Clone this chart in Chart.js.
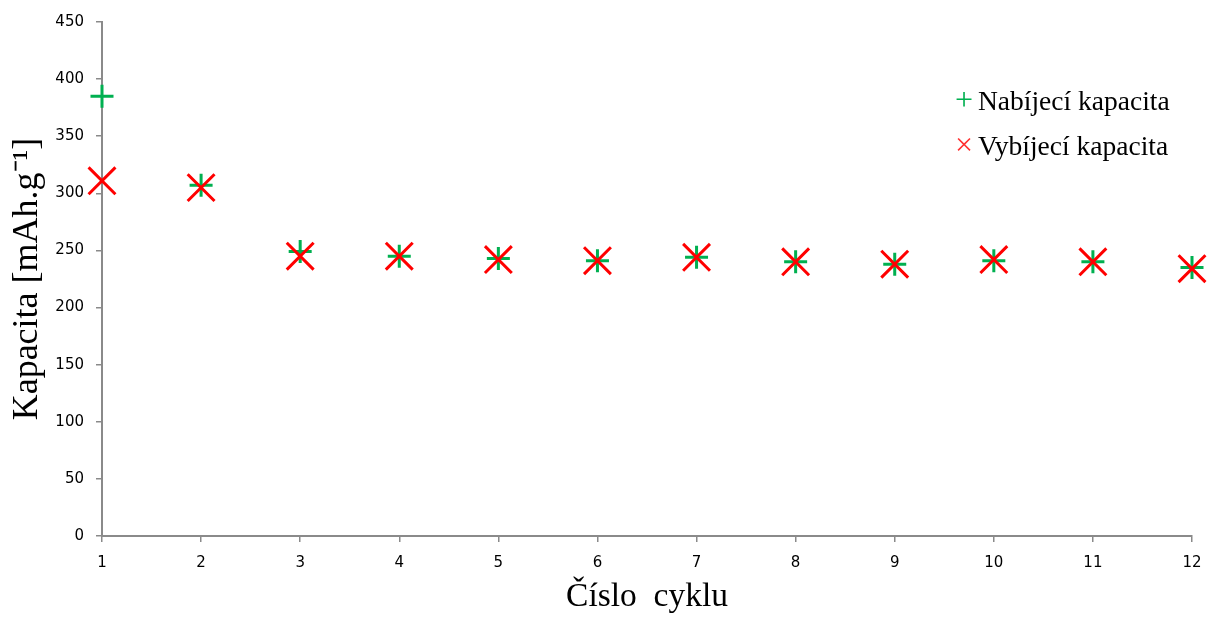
<!DOCTYPE html>
<html>
<head>
<meta charset="utf-8">
<script src="https://cdn.jsdelivr.net/npm/chart.js@4"></script>
<style>
  html, body { margin: 0; padding: 0; background: #fff; }
  #wrap { position: relative; width: 1209px; height: 617px; }
  #legend {
    position: absolute; left: 955px; top: 78px;
    font-family: "Liberation Serif", "DejaVu Serif", serif;
    font-size: 27.5px; color: #000; line-height: 45px;
  }
  #legend .mk { display: inline-block; width: 23px; font-size: 32px; line-height: 20px; }
</style>
</head>
<body>
<div id="wrap">
  <canvas id="c" width="1209" height="617"></canvas>
  <div id="legend">
    <div><span class="mk" style="color:#00b050">+</span>Nabíjecí kapacita</div>
    <div><span class="mk" style="color:#ff3030">×</span>Vybíjecí kapacita</div>
  </div>
</div>
<script>
// ── データ ──────────────────────────────
const cycles    = [1, 2, 3, 4, 5, 6, 7, 8, 9, 10, 11, 12];
const charge    = [385, 307, 249, 245, 243, 241, 244, 240, 238, 241, 240, 235];
const discharge = [311, 305, 245, 245, 242, 241, 244, 240, 238, 242, 240, 234];
const yTicks    = [0, 50, 100, 150, 200, 250, 300, 350, 400, 450];

const AXIS = "#8a8a8a";
const tickFont  = { family: "DejaVu Sans", size: 15 };

const toXY = (vals) => vals.map((v, i) => ({ x: cycles[i], y: v }));

new Chart(document.getElementById("c"), {
  type: "scatter",
  data: {
    datasets: [
      {
        label: "Nabíjecí kapacita",
        data: toXY(charge),
        pointStyle: "cross",
        pointRadius: 11.5,
        pointHoverRadius: 11.5,
        borderColor: "#00b050",
        backgroundColor: "#00b050",
        pointBorderWidth: 3,
        order: 1,
        clip: false,
      },
      {
        label: "Vybíjecí kapacita",
        data: toXY(discharge),
        pointStyle: "crossRot",
        pointRadius: 19,
        pointHoverRadius: 19,
        borderColor: "#ff0000",
        backgroundColor: "#ff0000",
        pointBorderWidth: 3,
        order: 0,
        clip: false,
      },
    ],
  },
  options: {
    responsive: false,
    animation: false,
    layout: { autoPadding: false, padding: { top: 22, right: 17, left: 0, bottom: 0 } },
    plugins: { legend: { display: false }, tooltip: { enabled: false } },
    scales: {
      x: {
        type: "linear",
        min: cycles[0],
        max: cycles[cycles.length - 1],
        afterBuildTicks: (s) => { s.ticks = cycles.map((v) => ({ value: v })); },
        afterFit: (s) => { s.height = 81; s.paddingRight = 0; s.paddingLeft = 0; },
        grid: { drawOnChartArea: false, drawTicks: true, tickLength: 6, color: AXIS, lineWidth: 1.5 },
        border: { color: AXIS, width: 2 },
        ticks: { color: "#000", font: tickFont, padding: 12, maxRotation: 0 },
        title: { display: true, text: "Číslo  cyklu", color: "#000", font: { family: "Liberation Serif", size: 33.5 }, padding: { top: 0, bottom: 0 } },
      },
      y: {
        min: 0,
        max: 450,
        afterBuildTicks: (s) => { s.ticks = yTicks.map((v) => ({ value: v })); },
        afterFit: (s) => { s.width = 102; s.paddingTop = 0; s.paddingBottom = 0; },
        grid: { drawOnChartArea: false, drawTicks: true, tickLength: 6, color: AXIS, lineWidth: 1.5 },
        border: { color: AXIS, width: 2 },
        ticks: { color: "#000", font: tickFont, padding: 12 },
        title: { display: true, text: "Kapacita [mAh.g⁻¹]", color: "#000", font: { family: "Liberation Serif", size: 36 }, padding: { top: 6, bottom: 0 } },
      },
    },
  },
});
</script>
</body>
</html>
